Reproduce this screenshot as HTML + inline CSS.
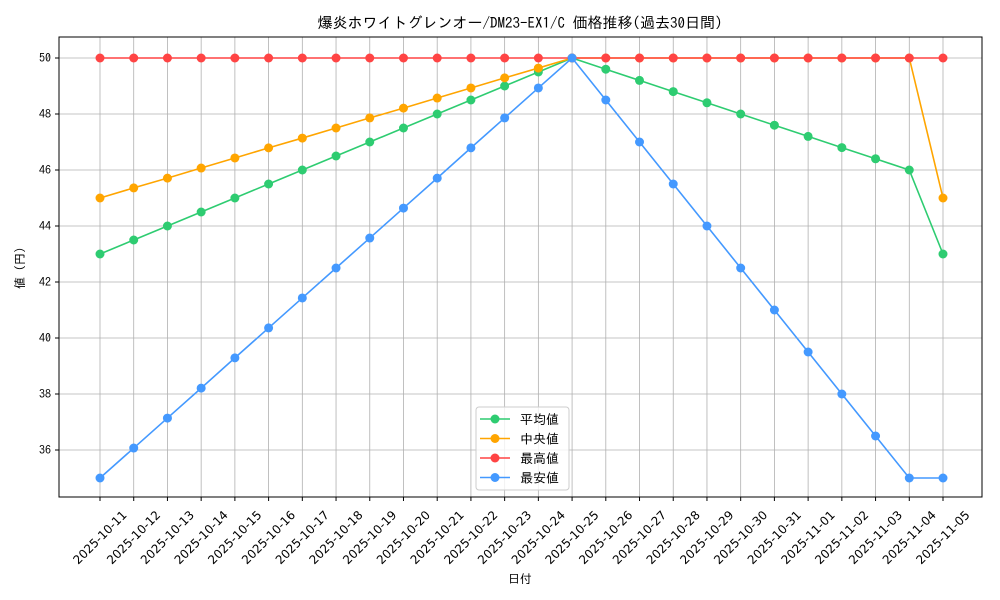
<!DOCTYPE html>
<html><head><meta charset="utf-8"><style>
body{margin:0;background:#fff}
svg{display:block;font-family:"IPAGothic","Noto Sans CJK JP",sans-serif}
</style></head><body>
<svg id="c" width="1000" height="600"></svg>
<script>
const dates=["2025-10-11","2025-10-12","2025-10-13","2025-10-14","2025-10-15","2025-10-16","2025-10-17","2025-10-18","2025-10-19","2025-10-20","2025-10-21","2025-10-22","2025-10-23","2025-10-24","2025-10-25","2025-10-26","2025-10-27","2025-10-28","2025-10-29","2025-10-30","2025-10-31","2025-11-01","2025-11-02","2025-11-03","2025-11-04","2025-11-05"];
const avgVals=[43,43.5,44,44.5,45,45.5,46,46.5,47,47.5,48,48.5,49,49.5,50,49.6,49.2,48.8,48.4,48,47.6,47.2,46.8,46.4,46,43];
const medVals=[45,45.36,45.71,46.07,46.43,46.79,47.14,47.5,47.86,48.21,48.57,48.93,49.29,49.64,50,50,50,50,50,50,50,50,50,50,50,45];
const maxVals=[50,50,50,50,50,50,50,50,50,50,50,50,50,50,50,50,50,50,50,50,50,50,50,50,50,50];
const minVals=[35,36.07,37.14,38.21,39.29,40.36,41.43,42.5,43.57,44.64,45.71,46.79,47.86,48.93,50,48.5,47,45.5,44,42.5,41,39.5,38,36.5,35,35];
const yTicks=[36,38,40,42,44,46,48,50];
const seriesNames=["平均値","中央値","最高値","最安値"];
const colors=["#2ecc71","#ffa500","#ff4444","#4499ff"];
const svg=document.getElementById('c');const NS="http://www.w3.org/2000/svg";
function mk(t,a,p){const e=document.createElementNS(NS,t);for(const k in a)e.setAttribute(k,a[k]);(p||svg).appendChild(e);return e;}
const L=59,R=982,T=37,B=497;
const x=i=>100+i*(843/(dates.length-1));
const y=v=>58+(50-v)*28;
mk('rect',{x:L,y:T,width:R-L,height:B-T,fill:'#fff'});
dates.forEach((d,i)=>{const g=mk('line',{x1:x(i),x2:x(i),y1:T,y2:B,stroke:'#b0b0b0','stroke-width':0.8});

mk('line',{x1:x(i),x2:x(i),y1:B,y2:B+4,stroke:'#000'});
const cy=537.5;
const t=mk('text',{x:x(i),y:cy,'font-size':12,'font-family':'"DejaVu Sans",sans-serif','text-anchor':'middle','dominant-baseline':'central',transform:`rotate(-45 ${x(i)} ${cy})`});t.textContent=d;
});
yTicks.forEach(v=>{const g=mk('line',{x1:L,x2:R,y1:y(v),y2:y(v),stroke:'#b0b0b0','stroke-width':0.8});

mk('line',{x1:L-4,x2:L,y1:y(v),y2:y(v),stroke:'#000'});
const t=mk('text',{x:L-8,y:y(v)+4,'font-size':12,'text-anchor':'end'});t.textContent=v;
});
[avgVals,medVals,maxVals,minVals].forEach((s,k)=>{const g=mk('g',{});

mk('polyline',{points:s.map((v,i)=>x(i)+','+y(v)).join(' '),fill:'none',stroke:colors[k],'stroke-width':1.6},g);
s.forEach((v,i)=>{const c=mk('circle',{cx:x(i),cy:y(v),r:4.5,fill:colors[k]},g);
});});
mk('rect',{x:L,y:T,width:R-L,height:B-T,fill:'none',stroke:'#000','stroke-width':1});
const title=mk('text',{x:520,y:28,'font-size':15,'text-anchor':'middle'});title.textContent="爆炎ホワイトグレンオー/DM23-EX1/C 価格推移(過去30日間)";

const xt=mk('text',{x:520,y:583,'font-size':12,'text-anchor':'middle'});xt.textContent="日付";

const yt=mk('text',{x:24,y:268,'font-size':12,'text-anchor':'middle',transform:'rotate(-90 24 268)'});yt.textContent="値 (円)";

const lg=mk('g',{});
mk('rect',{x:476,y:407,width:93,height:83,rx:3,fill:'#fff','fill-opacity':0.8,stroke:'#ccc'},lg);
seriesNames.forEach((n,k)=>{const yy=419+k*19.5;const e=mk('g',{},lg);

mk('line',{x1:480,x2:510,y1:yy,y2:yy,stroke:colors[k],'stroke-width':1.6},e);
mk('circle',{cx:495,cy:yy,r:4.5,fill:colors[k]},e);
const t=mk('text',{x:520,y:yy+5,'font-size':13},e);t.textContent=n;});
</script>
</body></html>
